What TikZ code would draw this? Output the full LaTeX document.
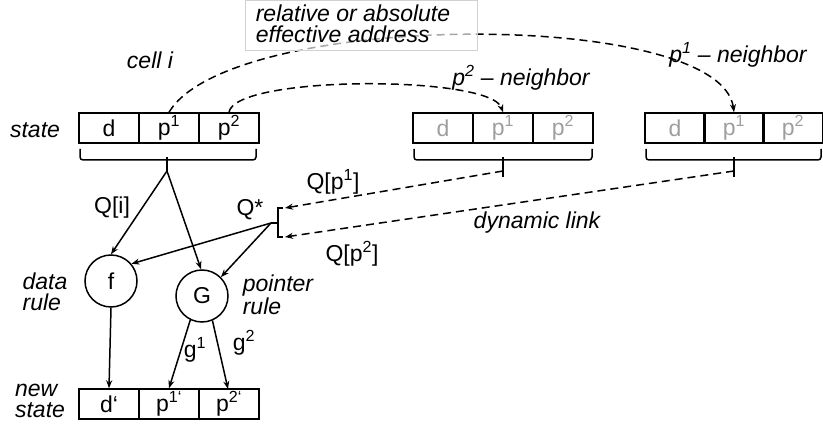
\documentclass[tikz,border=0pt]{standalone}
\usepackage{fontspec}
\setmainfont{Liberation Sans}
\usetikzlibrary{arrows.meta}
\begin{document}
\begin{tikzpicture}[x=1pt,y=-1pt,
  every node/.style={font=\fontsize{23}{21}\selectfont, inner sep=0pt},
  lbl/.style={font=\fontsize{23}{21}\selectfont\itshape, align=left},
  cellbox/.style={draw, line width=1.5pt, minimum width=60pt, minimum height=30pt},
  ghost/.style={cellbox, text=black!38},
  bracepath/.style={line width=1.5pt, rounded corners=3pt},
  arr/.style={line width=1.5pt, -{Stealth[length=8pt,width=6pt]}},
  dsh/.style={line width=1.5pt, dash pattern=on 8pt off 5pt},
  rule/.style={draw, circle, line width=1.5pt, minimum size=52pt}
]
\useasboundingbox (0,0) rectangle (823,427);

% main state cells
\node[cellbox] (d)  at (109,128) {d};
\node[cellbox] (p1) at (169,128) {p\textsuperscript{1}};
\node[cellbox] (p2) at (229,128) {p\textsuperscript{2}};
% neighbour 2
\node[ghost] (nd)  at (443,128) {d};
\node[ghost] (np1) at (503,128) {p\textsuperscript{1}};
\node[ghost] (np2) at (563,128) {p\textsuperscript{2}};
% neighbour 1
\node[ghost] (md)  at (675,128) {d};
\node[ghost] (mp1) at (734,128) {p\textsuperscript{1}};
\node[ghost] (mp2) at (793,128) {p\textsuperscript{2}};
% new state
\node[cellbox] (dn)  at (109,404) {d‘};
\node[cellbox] (p1n) at (169,404) {p\textsuperscript{1‘}};
\node[cellbox] (p2n) at (229,404) {p\textsuperscript{2‘}};

% braces
\draw[bracepath] (80,149) |- (256,160) -- (256,149);
\draw[line width=1.5pt] (167,157) -- (167,171);
\coordinate (btip) at (167,171);
\draw[bracepath] (414,149) |- (592,160) -- (592,149);
\draw[line width=1.5pt] (503,157) -- (503,177);
\coordinate (ntip) at (503,171);
\draw[bracepath] (646,149) |- (821,160) -- (821,149);
\draw[line width=1.5pt] (734,157) -- (734,177);
\coordinate (mtip) at (734,171);

% rules
\node[rule] (f) at (111,281) {f};
\node[rule] (G) at (202,296) {G};

% Q* bracket
\coordinate (qtop) at (285,208);
\coordinate (qbot) at (285,237);
\coordinate (qs) at (271,223);
\draw[line width=1.5pt] (283,208) -- (278,208) -- (278,237) -- (283,237);
\draw[line width=1.5pt] (278,223) -- (qs);

% pointer curves
\draw[dsh, arr] (p1.north) .. controls (230,10) and (720,8) .. (mp1.north);
\draw[dsh, arr] (p2.north) .. controls (235,75) and (490,75) .. (np1.north);

% address label box
\node[draw=black!18, line width=0.8pt, fill=white, fill opacity=0.65, text opacity=1,
      minimum width=232pt, minimum height=50pt, anchor=north west] (addrbox) at (245,0.5) {};
\node[lbl] (addr) at (353,24) {relative or absolute\\effective address};

% dynamic links
\draw[dsh, arr] (ntip) -- (qtop);
\draw[dsh, arr] (mtip) -- (qbot);

% solid arrows
\draw[arr] (btip) -- (f.north);
\draw[arr] (btip) -- (G.92);
\draw[arr] (qs) -- (f.40);
\draw[arr] (qs) -- (G.45);
\draw[arr] (f.south) -- (dn.north);
\draw[arr] (G.244) -- (p1n.north);
\draw[arr] (G.293) -- (228,389);

% labels
\node[lbl] (lstate) at (35,130) {state};
\node[lbl] (lcell) at (150,60) {cell i};
\node[lbl] (ln2) at (521,78) {p\textsuperscript{2} – neighbor};
\node[lbl] (ln1) at (738,55) {p\textsuperscript{1} – neighbor};
\node (lqp1) at (333,182) {Q[p\textsuperscript{1}]};
\node (lqs) at (250,210) {Q*};
\node (lqp2) at (352,254) {Q[p\textsuperscript{2}]};
\node[lbl] (ldyn) at (537,223) {dynamic link};
\node (lqi) at (112,208) {Q[i]};
\node[lbl] (ldata) at (45,292) {data\\rule};
\node[lbl] (lptr) at (278,295) {pointer\\rule};
\node (lg1) at (195,350) {g\textsuperscript{1}};
\node (lg2) at (244,343) {g\textsuperscript{2}};
\node[lbl] (lnew) at (40,401) {new\\state};
\end{tikzpicture}
\end{document}
